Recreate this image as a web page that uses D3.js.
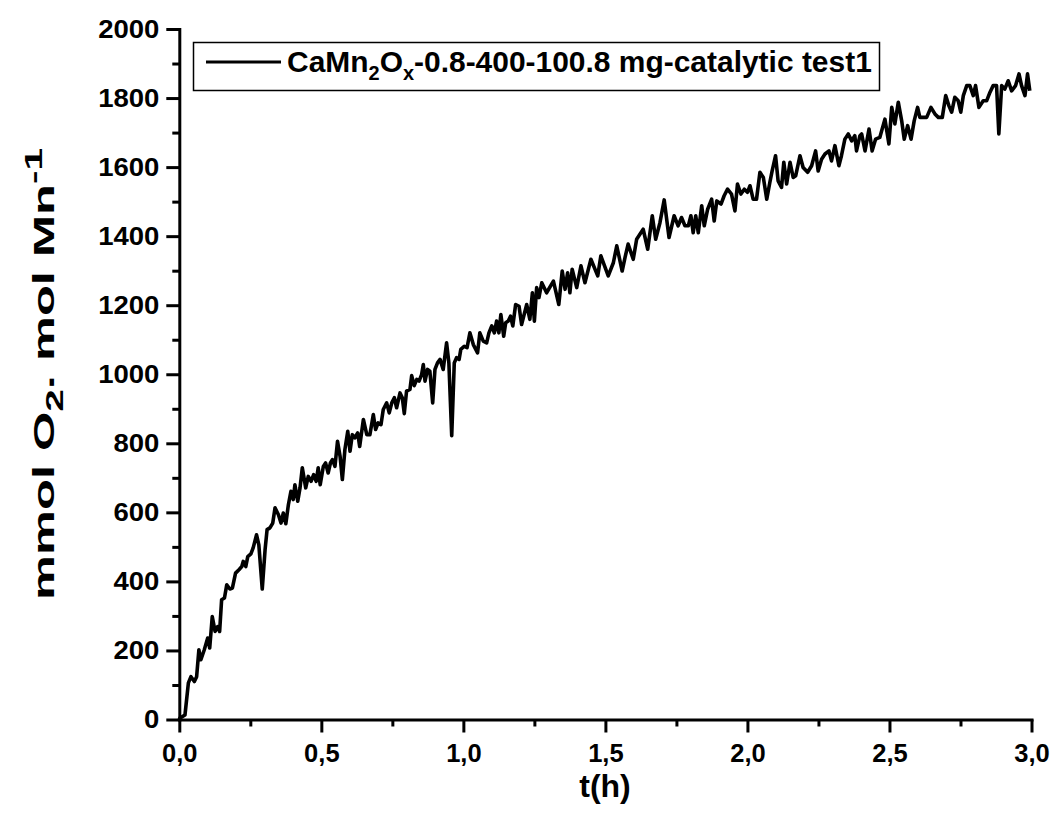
<!DOCTYPE html>
<html>
<head>
<meta charset="utf-8">
<style>
  body { margin: 0; background: #fff; }
  svg text { font-family: "Liberation Sans", Arial, sans-serif; font-weight: bold; fill: #000; }
</style>
</head>
<body>
<svg></svg>
<script src="https://cdn.jsdelivr.net/npm/d3@7/dist/d3.min.js"></script>
<script>
// time in hours
const timeH = [
  0.0, 0.002, 0.02, 0.032, 0.041, 0.053, 0.061, 0.069, 0.076, 0.088, 0.1, 0.107, 0.116, 0.126, 0.135, 0.142,
  0.149, 0.159, 0.167, 0.178, 0.187, 0.198, 0.21, 0.22, 0.225, 0.234, 0.241, 0.252, 0.26, 0.272, 0.28, 0.292,
  0.302, 0.309, 0.319, 0.329, 0.337, 0.349, 0.358, 0.366, 0.375, 0.384, 0.393, 0.401, 0.407, 0.417, 0.425, 0.433,
  0.445, 0.454, 0.464, 0.473, 0.482, 0.489, 0.496, 0.507, 0.515, 0.524, 0.532, 0.539, 0.548, 0.557, 0.566, 0.574,
  0.583, 0.593, 0.601, 0.609, 0.618, 0.628, 0.635, 0.648, 0.66, 0.671, 0.683, 0.691, 0.7, 0.71, 0.718, 0.73,
  0.739, 0.748, 0.757, 0.765, 0.777, 0.785, 0.792, 0.8, 0.812, 0.818, 0.827, 0.836, 0.844, 0.853, 0.859, 0.865,
  0.874, 0.882, 0.892, 0.9, 0.909, 0.918, 0.929, 0.941, 0.949, 0.959, 0.968, 0.976, 0.985, 0.991, 1.003, 1.013,
  1.023, 1.035, 1.05, 1.058, 1.07, 1.082, 1.09, 1.1, 1.109, 1.117, 1.125, 1.132, 1.142, 1.149, 1.158, 1.166,
  1.174, 1.184, 1.196, 1.205, 1.223, 1.234, 1.243, 1.25, 1.258, 1.266, 1.276, 1.293, 1.317, 1.336, 1.348, 1.358,
  1.367, 1.375, 1.383, 1.399, 1.414, 1.428, 1.449, 1.473, 1.484, 1.51, 1.528, 1.54, 1.559, 1.569, 1.58, 1.598,
  1.61, 1.633, 1.649, 1.665, 1.677, 1.692, 1.707, 1.724, 1.742, 1.756, 1.768, 1.78, 1.792, 1.801, 1.809, 1.818,
  1.827, 1.839, 1.848, 1.86, 1.874, 1.883, 1.892, 1.907, 1.918, 1.93, 1.944, 1.956, 1.965, 1.977, 1.989, 2.0,
  2.009, 2.02, 2.032, 2.044, 2.056, 2.068, 2.079, 2.087, 2.099, 2.108, 2.12, 2.128, 2.138, 2.15, 2.161, 2.17,
  2.185, 2.196, 2.212, 2.226, 2.24, 2.249, 2.261, 2.273, 2.287, 2.296, 2.308, 2.322, 2.331, 2.343, 2.355, 2.367,
  2.378, 2.384, 2.396, 2.402, 2.414, 2.428, 2.439, 2.451, 2.466, 2.484, 2.498, 2.508, 2.519, 2.531, 2.543, 2.552,
  2.564, 2.576, 2.587, 2.599, 2.607, 2.619, 2.631, 2.646, 2.66, 2.672, 2.686, 2.698, 2.709, 2.719, 2.73, 2.742,
  2.751, 2.76, 2.772, 2.783, 2.795, 2.803, 2.815, 2.83, 2.842, 2.854, 2.865, 2.877, 2.885, 2.895, 2.906, 2.918,
  2.93, 2.944, 2.956, 2.965, 2.977, 2.986, 2.994
];

// mmol O2 per mol Mn
const o2Yield = [
  0, 4, 13, 106, 124, 110, 124, 202, 173, 202, 236, 207, 298, 255, 269, 255,
  347, 352, 390, 378, 381, 424, 434, 443, 458, 443, 472, 480, 497, 535, 506, 378,
  492, 550, 555, 569, 613, 593, 569, 598, 567, 622, 661, 637, 680, 632, 671, 729,
  671, 704, 690, 709, 690, 729, 680, 733, 743, 714, 743, 753, 733, 806, 762, 695,
  782, 835, 777, 825, 816, 830, 791, 869, 825, 825, 883, 840, 859, 854, 898, 917,
  888, 917, 932, 903, 946, 932, 886, 951, 956, 996, 967, 985, 980, 999, 1028, 980,
  1014, 1009, 917, 1014, 1033, 1043, 1014, 1091, 1033, 822, 1033, 1048, 1043, 1072, 1081, 1077,
  1120, 1086, 1062, 1120, 1096, 1091, 1120, 1140, 1120, 1154, 1120, 1173, 1110, 1149, 1154, 1168,
  1140, 1202, 1197, 1144, 1202, 1159, 1236, 1154, 1251, 1222, 1265, 1236, 1270, 1202, 1299, 1246,
  1294, 1236, 1304, 1251, 1314, 1265, 1333, 1285, 1343, 1285, 1323, 1372, 1299, 1338, 1377, 1333,
  1391, 1420, 1362, 1459, 1391, 1439, 1505, 1396, 1459, 1430, 1454, 1430, 1430, 1459, 1410, 1459,
  1410, 1488, 1430, 1478, 1507, 1444, 1502, 1493, 1517, 1536, 1522, 1473, 1551, 1522, 1536, 1527,
  1546, 1507, 1507, 1585, 1570, 1507, 1556, 1589, 1633, 1560, 1541, 1614, 1551, 1614, 1570, 1575,
  1633, 1599, 1585, 1604, 1647, 1589, 1623, 1638, 1647, 1618, 1662, 1604, 1633, 1681, 1696, 1676,
  1691, 1647, 1691, 1696, 1647, 1710, 1647, 1681, 1686, 1739, 1667, 1773, 1725, 1788, 1734, 1681,
  1720, 1681, 1734, 1773, 1744, 1744, 1744, 1773, 1754, 1744, 1744, 1807, 1778, 1759, 1802, 1792,
  1759, 1807, 1836, 1836, 1807, 1836, 1773, 1792, 1792, 1817, 1836, 1836, 1696, 1836, 1826, 1850,
  1821, 1836, 1870, 1836, 1807, 1870, 1821
];

const yTicks = d3.range(0, 2001, 200);
const yMinorTicks = d3.range(100, 2000, 200);
const xTicks = [0, 0.5, 1, 1.5, 2, 2.5, 3];
const xMinorTicks = [0.25, 0.75, 1.25, 1.75, 2.25, 2.75];

const width = 1055;
const height = 828;

const svg = d3.select("svg").attr("width", width).attr("height", height);

const x = d3.scaleLinear().domain([0, 3]).range([179.3, 1031.5]);
const y = d3.scaleLinear().domain([0, 2000]).range([719.5, 29]);

const commaFmt = d => d3.format(".1f")(d).replace(".", ",");

// minor ticks first, majors on top
svg.append("g")
  .attr("transform", `translate(0,${y(0)})`)
  .call(d3.axisBottom(x).tickValues(xMinorTicks).tickSize(7).tickSizeOuter(0).tickFormat(""))
  .call(g => g.select(".domain").remove());

svg.append("g")
  .attr("transform", `translate(${x(0)},0)`)
  .call(d3.axisLeft(y).tickValues(yMinorTicks).tickSize(7).tickSizeOuter(0).tickFormat(""))
  .call(g => g.select(".domain").remove());

const xAxis = svg.append("g")
  .attr("transform", `translate(0,${y(0)})`)
  .call(d3.axisBottom(x).tickValues(xTicks).tickSize(13).tickSizeOuter(0).tickPadding(11).tickFormat(commaFmt));

xAxis.selectAll("text").style("font-size", "25.5px");

const yAxis = svg.append("g")
  .attr("transform", `translate(${x(0)},0)`)
  .call(d3.axisLeft(y).tickValues(yTicks).tickSize(13).tickSizeOuter(0).tickFormat(d3.format("d")));

// the y labels in the picture are drawn a little wider than normal
const ySx = 1.1;
yAxis.selectAll("text")
  .style("font-size", "25px")
  .attr("x", -20 / ySx)
  .attr("transform", `scale(${ySx},1)`);

svg.selectAll(".tick line").attr("stroke", "#000").attr("stroke-width", 3);
svg.selectAll(".domain").attr("stroke", "#000").attr("stroke-width", 3).attr("stroke-linecap", "square");

// data line
const line = d3.line()
  .x((d, i) => x(timeH[i]))
  .y(d => y(d));

svg.append("path")
  .datum(o2Yield)
  .attr("fill", "none")
  .attr("stroke", "#000")
  .attr("stroke-width", 3.6)
  .attr("stroke-linejoin", "round")
  .attr("d", line);

// axis titles
svg.append("text")
  .attr("x", 605)
  .attr("y", 797)
  .attr("text-anchor", "middle")
  .style("font-size", "32px")
  .text("t(h)");

const yTitle = svg.append("text")
  .attr("text-anchor", "middle")
  .style("font-size", "30px");
yTitle.append("tspan").text("mmol O");
yTitle.append("tspan").attr("dy", 9).style("font-size", "24px").text("2");
yTitle.append("tspan").attr("dy", -9).text(". mol Mn");
yTitle.append("tspan").attr("dy", -12).style("font-size", "24px").text("-1");
const yLen = yTitle.node().getComputedTextLength();
yTitle.attr("transform", `translate(54,374) rotate(-90) scale(${452 / yLen},1)`);

// legend
const legend = svg.append("g");
legend.append("rect")
  .attr("x", 193.5).attr("y", 42.5)
  .attr("width", 686).attr("height", 48)
  .attr("fill", "#fff").attr("stroke", "#000").attr("stroke-width", 1.5);
legend.append("line")
  .attr("x1", 206).attr("x2", 281)
  .attr("y1", 62).attr("y2", 62)
  .attr("stroke", "#000").attr("stroke-width", 3);
const legText = legend.append("text")
  .attr("y", 72)
  .style("font-size", "30px");
legText.append("tspan").text("CaMn");
legText.append("tspan").attr("dy", 8).style("font-size", "20px").text("2");
legText.append("tspan").attr("dy", -8).text("O");
legText.append("tspan").attr("dy", 8).style("font-size", "20px").text("x");
legText.append("tspan").attr("dy", -8).text("-0.8-400-100.8 mg-catalytic test1");
const legLen = legText.node().getComputedTextLength();
const legSx = 585 / legLen;
legText.attr("transform", `translate(287,0) scale(${legSx},1)`);
</script>
</body>
</html>
